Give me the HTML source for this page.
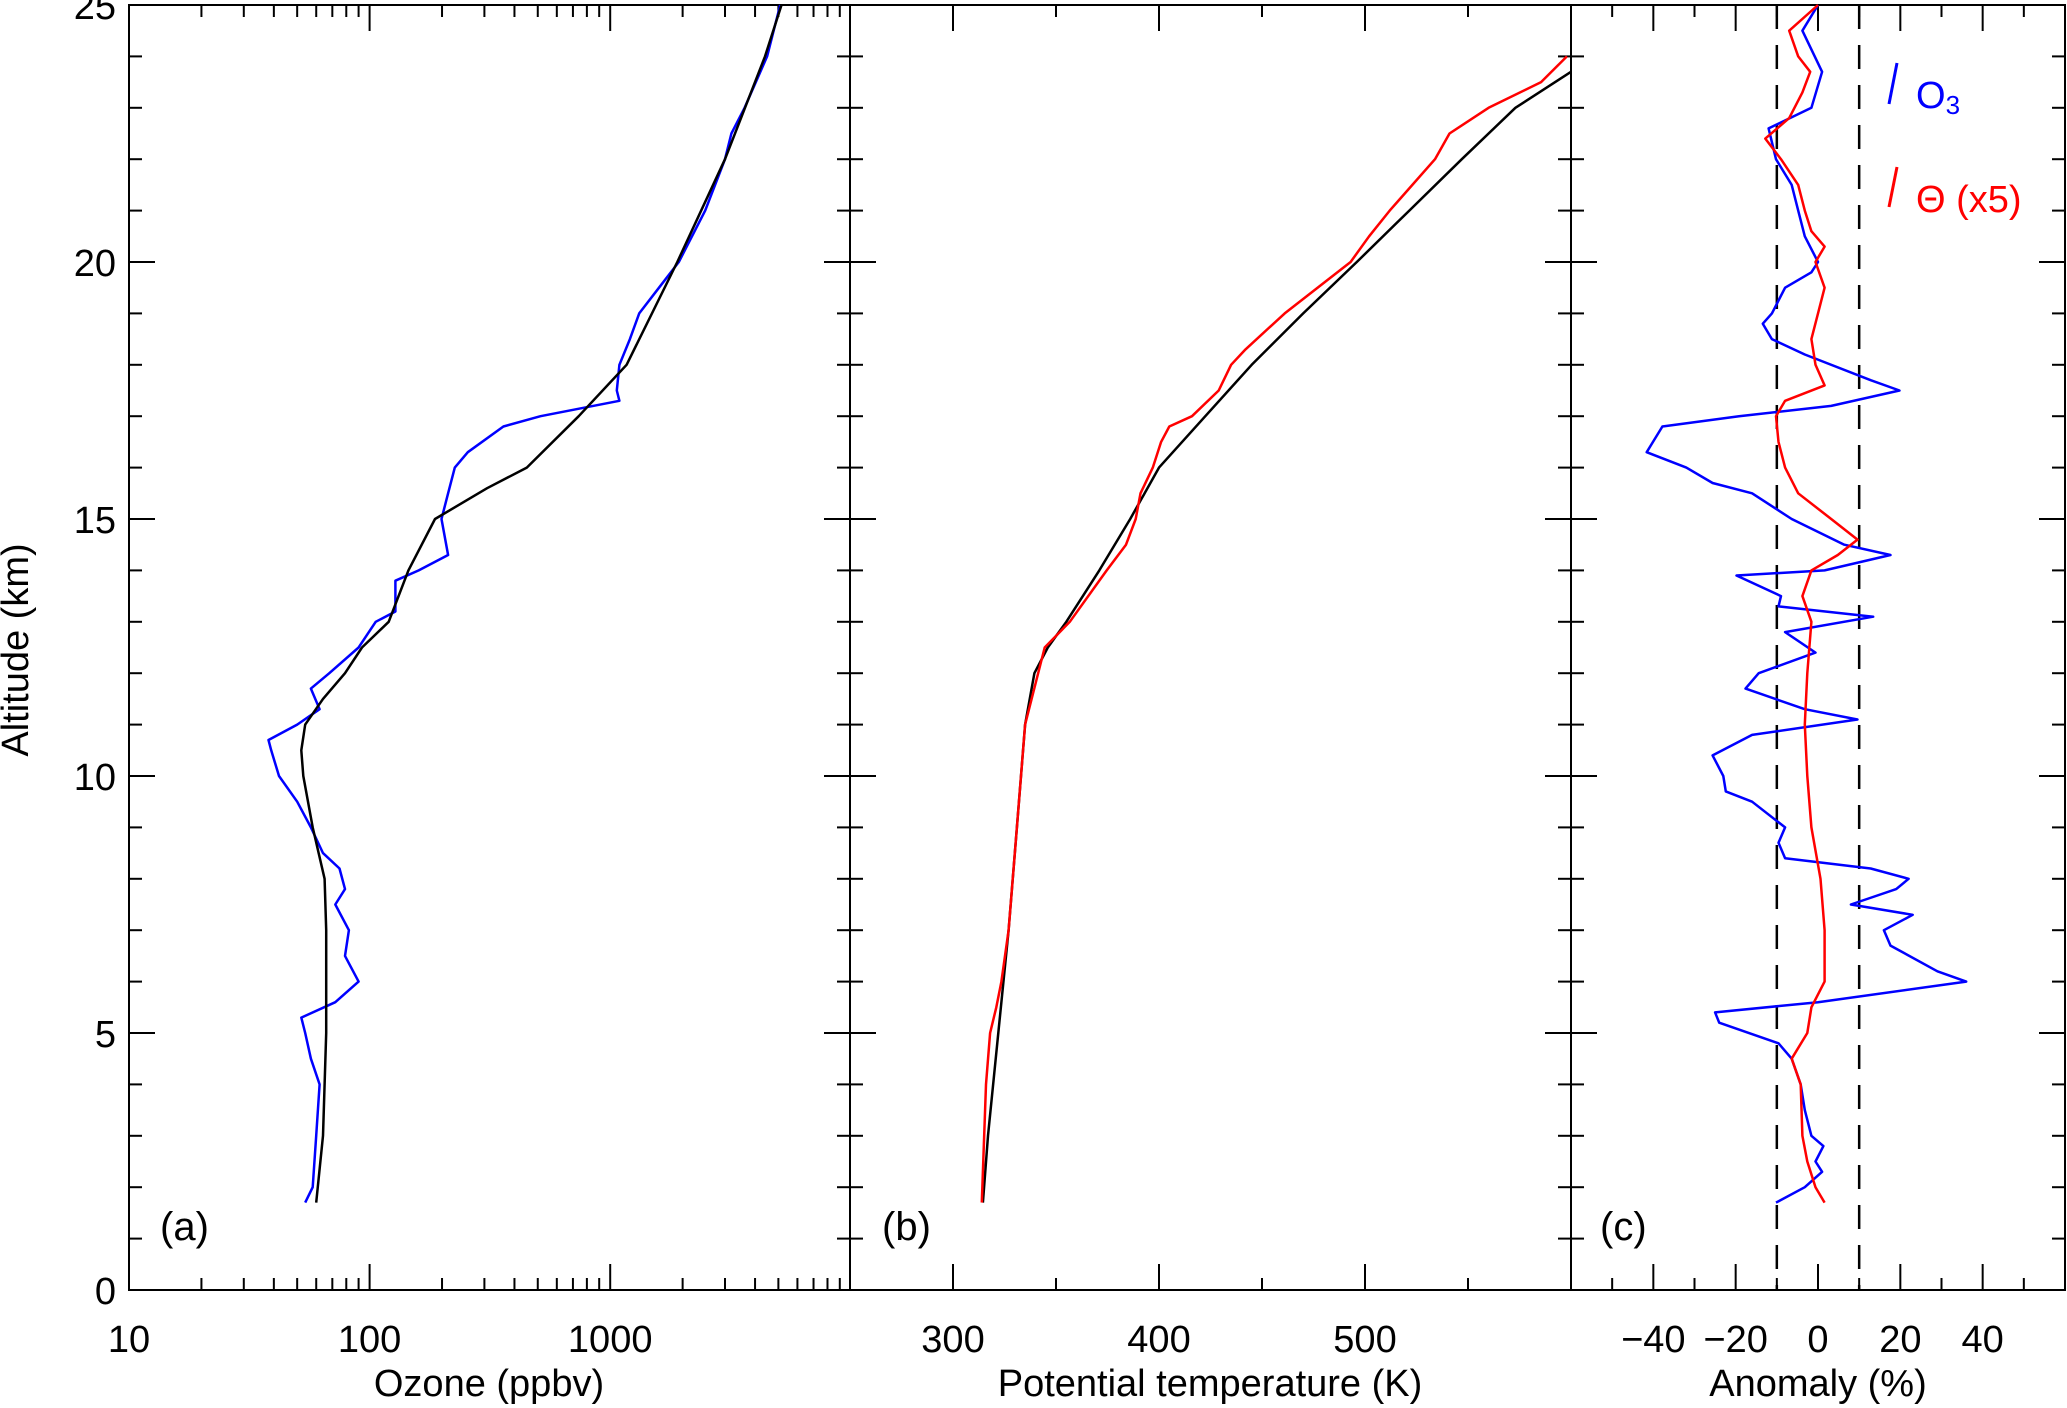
<!DOCTYPE html>
<html><head><meta charset="utf-8"><style>
html,body{margin:0;padding:0;background:#fff;}
svg{display:block;font-family:"Liberation Sans",sans-serif;}
</style></head><body>
<svg id="chart" width="2067" height="1408" viewBox="0 0 2067 1408" xmlns="http://www.w3.org/2000/svg">
<g id="frames"></g>
<g id="ticks"></g>
<g id="labels" font-size="38" fill="#000"></g>
<g id="series"></g>
<text x="28" y="650" font-size="38" text-anchor="middle" transform="rotate(-90 28 650)">Altitude (km)</text>
<text x="489" y="1396" font-size="38" text-anchor="middle">Ozone (ppbv)</text>
<text x="1210" y="1396" font-size="38" text-anchor="middle">Potential temperature (K)</text>
<text x="1818" y="1396" font-size="38" text-anchor="middle">Anomaly (%)</text>
<text x="160" y="1240" font-size="40">(a)</text>
<text x="882" y="1240" font-size="40">(b)</text>
<text x="1600" y="1240" font-size="40">(c)</text>
<line x1="1897" y1="63" x2="1889" y2="104" stroke="#0000ff" stroke-width="3"/>
<text x="1916" y="108" font-size="38" fill="#0000ff">O<tspan font-size="26" dy="6">3</tspan></text>
<line x1="1897" y1="167" x2="1889" y2="207" stroke="#ff0000" stroke-width="3"/>
<text x="1916" y="212" font-size="38" fill="#ff0000">Θ (x5)</text>
</svg>
<script>
// Panel (a) ozone
const ozClimZ = [1.7,3,5,7,8,9,10,10.5,11,11.5,12,12.5,13,14,15,15.6,16,17,18,20,22,24,25];
const ozClimV = [60,64,66,66,65,58,53,52,54,64,79,93,120,145,187,308,450,740,1170,1900,3000,4400,5150];
const ozObsZ = [1.7,2,3,4,4.5,5,5.3,5.6,6,6.5,7,7.5,7.8,8.2,8.5,9,9.5,10,10.5,10.7,11,11.3,11.7,12,12.5,13,13.2,13.8,14,14.3,15,15.5,16,16.3,16.8,17,17.3,17.5,18,18.5,19,19.5,20,21,22,22.5,23,24,25];
const ozObsV = [54,58,60,62,57,54,52,72,90,79,82,72,79,75,64,57,50,42,39,38,50,62,57,68,90,106,128,128,160,212,199,212,226,256,360,513,1092,1065,1092,1208,1320,1596,1928,2482,3000,3190,3620,4490,5090];
// Panel (b) potential temperature
const thClimZ = [1.7,3,5,7,9,11,12,12.5,13,14,15,16,17,18,19,20,21,22,23,23.7];
const thClimK = [314.5,317,322,327,331,335,339.5,346,355,371,386,400,422.5,445,470,496,521.5,547,573,600];
const thObsZ = [1.7,4,5,5.5,6,7,9,11,12.5,13,14,14.5,15,15.5,16,16.5,16.8,17,17.5,18,18.3,19,20,20.5,21,22,22.5,23,23.5,24];
const thObsK = [314,316,318,321,323.5,327,331,335,344.5,356.7,374.6,384,388.7,391,397,401,405,416,429,435,442,461,493,502,512,534,541,560,585.5,598];
// Panel (c) anomalies
const anO3Z = [1.7,2,2.3,2.5,2.8,3,3.5,4,4.5,4.8,5.2,5.4,5.6,6,6.2,6.7,7,7.3,7.5,7.8,8,8.2,8.4,8.7,9,9.5,9.7,10,10.4,10.8,11.1,11.3,11.7,12,12.4,12.8,13.1,13.3,13.5,13.9,14,14.3,14.5,15,15.5,15.7,16,16.3,16.8,17,17.2,17.5,17.7,18.2,18.5,18.8,19,19.5,19.8,20,20.5,21,21.5,22,22.6,23,23.7,24.5,25];
const anO3V = [-10.2,-3.2,1,-0.6,1.3,-1.6,-3.2,-4.2,-6.4,-9.6,-24,-25,0,36,29,17.6,16,23,8,19,22,12.8,-8,-9.6,-8,-16,-22.4,-23,-25.6,-16,9.6,-3.2,-17.6,-14.4,-0.6,-8,13.4,-9.6,-9,-19.8,1.6,17.6,6.4,-6.4,-16,-25.6,-32,-41.6,-37.8,-19.2,3.2,19.8,12.8,-3.2,-11.2,-13.4,-11.2,-8,-1.6,0,-3.2,-4.8,-6.4,-10.2,-12,-1.6,1,-3.8,0];
const anThZ = [1.7,2,2.5,3,4,4.5,5,5.5,6,7,8,9,10,11,12,13,13.5,14,14.3,14.6,15,15.5,16,16.5,17,17.3,17.6,18,18.5,19,19.5,20,20.3,20.6,21,21.5,22,22.4,22.8,23.3,23.7,24,24.5,25];
const anThV = [1.6,-0.6,-2.6,-3.8,-4.2,-6.4,-2.6,-1.6,1.6,1.6,0.6,-1.6,-2.6,-3.2,-2.6,-1.6,-3.8,-1.6,4.8,9.6,3.2,-4.8,-8,-9.6,-10.2,-8,1.6,-0.6,-1.6,0,1.6,-0.6,1.6,-1.6,-3.2,-4.8,-9,-12.8,-7,-3.8,-1.9,-4.8,-7,0];
const dashVals = [-10,10];

const NS = "http://www.w3.org/2000/svg";
const Y0 = 1290, KM = 51.4, TOP = 5;
function yZ(z){ return Y0 - z*KM; }
function xA(v){ return 129 + (Math.log10(v)-1)*240.6; }
function xB(k){ return 850 + (k-250)*(721/350); }
function xC(a){ return 1571 + (a+60)*(494/120); }
function el(tag, attrs, parent){ const e=document.createElementNS(NS,tag); for(const k in attrs) e.setAttribute(k,attrs[k]); parent.appendChild(e); return e; }

const frames = document.getElementById('frames');
const ticks = document.getElementById('ticks');
const labels = document.getElementById('labels');
const series = document.getElementById('series');

const panels = [[129,850],[850,1571],[1571,2065]];
panels.forEach((p,i)=>{
  const r = el('rect',{x:p[0],y:TOP,width:p[1]-p[0],height:Y0-TOP,fill:'none',stroke:'#000','stroke-width':2},frames);
  
  
  for(let z=0; z<=25; z++){
    const len = z%5===0 ? 26 : 13;
    const y = yZ(z);
    const t1 = el('line',{x1:p[0],x2:p[0]+len,y1:y,y2:y,stroke:'#000','stroke-width':2},ticks);
    
    
    const t2 = el('line',{x1:p[1],x2:p[1]-len,y1:y,y2:y,stroke:'#000','stroke-width':2},ticks);
    
    
  }
});
for(let z=0; z<=25; z+=5){
  const t = el('text',{x:116,y:yZ(z)+14,'text-anchor':'end'},labels);
  t.textContent = z;
  
  
}
function xtick(x,len){
  const a = el('line',{x1:x,x2:x,y1:Y0,y2:Y0-len,stroke:'#000','stroke-width':2},ticks);
  
  
  const b = el('line',{x1:x,x2:x,y1:TOP,y2:TOP+len,stroke:'#000','stroke-width':2},ticks);
  
  
}
function xlabel(x,s){
  const t = el('text',{x:x,y:1352,'text-anchor':'middle'},labels);
  t.textContent = s;
  
  
}
[10,100,1000].forEach(d=>{ for(let m=1;m<=9;m++){ const v=d*m; xtick(xA(v), m===1?26:12); } xlabel(xA(d), String(d)); });
for(let k=300;k<600;k+=50){ xtick(xB(k), k%100===0?26:12); if(k%100===0) xlabel(xB(k), String(k)); }
for(let a=-50;a<=50;a+=10){ xtick(xC(a), a%20===0?26:12); }
[-40,-20,0,20,40].forEach(a=>xlabel(xC(a), a<0?'\u2212'+(-a):String(a)));

dashVals.forEach(v=>{
  const d = el('line',{x1:xC(v),x2:xC(v),y1:TOP,y2:Y0,stroke:'#000','stroke-width':2.5,'stroke-dasharray':'24 16'},series);
  
  
});
function line(zs,vs,fx,color,name){
  const pts = zs.map((z,i)=>fx(vs[i]).toFixed(1)+','+yZ(z).toFixed(1)).join(' ');
  const p = el('polyline',{points:pts,fill:'none',stroke:color,'stroke-width':2.5,'stroke-linejoin':'round'},series);
  
  
}
line(ozObsZ,ozObsV,xA,'#0000ff','ozone-observed-line');
line(ozClimZ,ozClimV,xA,'#000','ozone-climatology-line');
line(thClimZ,thClimK,xB,'#000','theta-climatology-line');
line(thObsZ,thObsK,xB,'#ff0000','theta-observed-line');
line(anO3Z,anO3V,xC,'#0000ff','ozone-anomaly-line');
line(anThZ,anThV,xC,'#ff0000','theta-anomaly-line');
</script>
</body></html>
